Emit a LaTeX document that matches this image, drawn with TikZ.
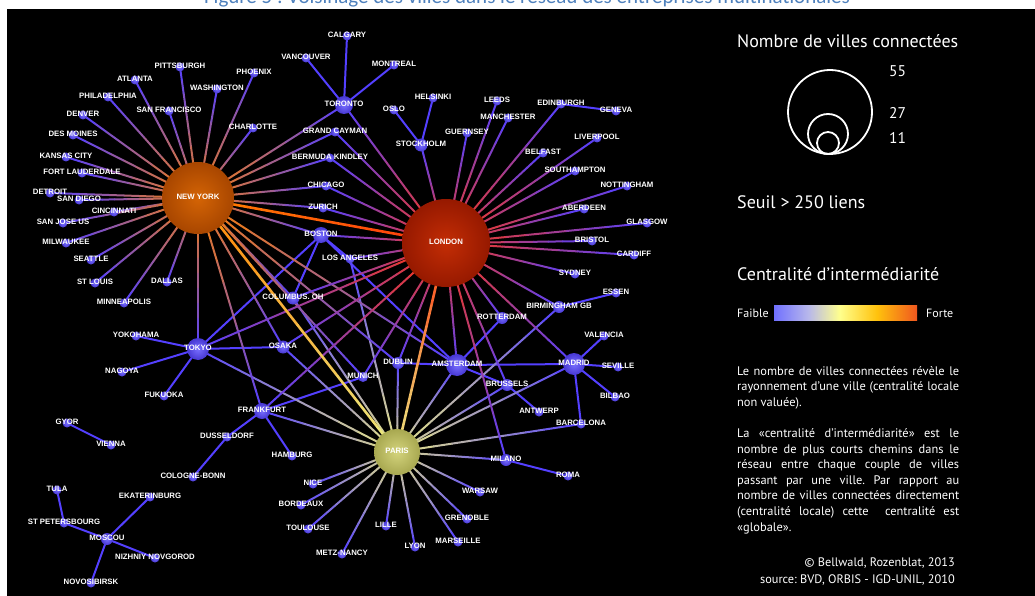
\documentclass[tikz,border=0pt]{standalone}
\usepackage{fontspec}
\setmainfont{PT Sans}
\newfontfamily\lbf{Liberation Sans}
\newfontfamily\ttf{Carlito}
\usetikzlibrary{calc}
\definecolor{cb}{RGB}{84,64,255}
\definecolor{cny}{RGB}{255,130,0}
\definecolor{cld}{RGB}{255,55,15}
\definecolor{cpa}{RGB}{235,235,130}
\definecolor{ttlblue}{RGB}{79,129,189}
\definecolor{bin}{RGB}{120,110,255}
\definecolor{bout}{RGB}{70,55,210}
\definecolor{nyin}{RGB}{212,100,5}
\definecolor{nyout}{RGB}{168,70,0}
\definecolor{ldin}{RGB}{195,45,5}
\definecolor{ldout}{RGB}{150,25,0}
\definecolor{pain}{RGB}{212,212,125}
\definecolor{paout}{RGB}{168,168,80}
\pgfdeclarehorizontalshading{cbar}{100bp}{rgb(0bp)=(0.44,0.44,1); rgb(25bp)=(0.44,0.44,1); rgb(37bp)=(0.72,0.72,0.92); rgb(48bp)=(1,1,0.55); rgb(61bp)=(1,0.76,0.05); rgb(75bp)=(0.94,0.34,0.12); rgb(100bp)=(0.94,0.34,0.12)}
\newcommand\gl[4]{%
  \foreach \k in {0,...,9}{%
    \pgfmathsetmacro\ta{\k/10}%
    \pgfmathsetmacro\tb{(\k+1)/10}%
    \pgfmathtruncatemacro\pc{95-10*\k}%
    \draw[edge,draw=#3!\pc!#4] ($(#1)!\ta!(#2)$) -- ($(#1)!\tb!(#2)$);}}
\newcommand\bl[2]{\draw[edge,draw=cb] (#1) -- (#2);}
\newcommand\ball[3]{\shade[#3] (#1) circle (#2pt);}
\newcommand\lab[2]{\node[lbl] (#1-l) at ($(#1)+(0,1.3)$) {#2};}
\frenchspacing
\begin{document}
\begin{tikzpicture}[x=1pt,y=-1pt,
  edge/.style={line width=2pt,line cap=round},
  lbl/.style={text=white,font=\lbf\bfseries\fontsize{7.8}{8}\selectfont,inner sep=0pt,anchor=base},
  bn/.style={inner color=bin,outer color=bout},
  nyb/.style={inner color=nyin,outer color=nyout},
  ldb/.style={inner color=ldin,outer color=ldout},
  pab/.style={inner color=pain,outer color=paout},
  legt/.style={text=white,inner sep=0pt,anchor=base west,font=\fontsize{18}{20}\selectfont},
  parl/.style={text=white,inner sep=0pt,anchor=base west,font=\fontsize{12.4}{14}\selectfont},
  cred/.style={text=white,inner sep=0pt,anchor=base east,font=\fontsize{12.3}{14}\selectfont}]
\useasboundingbox (0,0) rectangle (1035,596);
\fill[white] (0,0) rectangle (1035,596);
\fill[black] (7,9) rectangle (1035,596);
\node[text=ttlblue,inner sep=0pt,anchor=base,font=\ttf\fontsize{21}{24}\selectfont] (title) at (527,3.5) {Figure 5 : Voisinage des villes dans le réseau des entreprises multinationales};
% ---- cities
\coordinate (ny) at (198,198);
\coordinate (ld) at (446,243);
\coordinate (pa) at (397,452);
\coordinate (tor) at (344,105);
\coordinate (tok) at (198,349);
\coordinate (ams) at (457,365);
\coordinate (mad) at (574,364);
\coordinate (fra) at (262,411);
\coordinate (bos) at (321,235);
\coordinate (sto) at (421,145);
\coordinate (col) at (293,298);
\coordinate (osa) at (283,347);
\coordinate (mos) at (107,539);
\coordinate (bir) at (559,307);
\coordinate (dub) at (398,363);
\coordinate (bru) at (507,385);
\coordinate (rot) at (502,318);
\coordinate (mil) at (506,460);
\coordinate (mun) at (363,377);
\coordinate (pit) at (180,67);
\coordinate (atl) at (135,80);
\coordinate (phi) at (108,97);
\coordinate (den) at (83,115);
\coordinate (dsm) at (73,135);
\coordinate (kc) at (66,157);
\coordinate (ftl) at (82,173);
\coordinate (det) at (50,193);
\coordinate (sd) at (79,200);
\coordinate (cin) at (114,212);
\coordinate (sf) at (169,111);
\coordinate (was) at (217,89);
\coordinate (pho) at (254,73);
\coordinate (cha) at (253,128);
\coordinate (van) at (306,58);
\coordinate (cal) at (347,36);
\coordinate (mon) at (394,65);
\coordinate (osl) at (394,110);
\coordinate (hel) at (433,98);
\coordinate (gue) at (467,133);
\coordinate (lee) at (497,101);
\coordinate (man) at (508,118);
\coordinate (gc) at (335,132);
\coordinate (bk) at (330,158);
\coordinate (chi) at (326,186);
\coordinate (zur) at (323,208);
\coordinate (edi) at (561,104);
\coordinate (gen) at (616,111);
\coordinate (liv) at (597,138);
\coordinate (bel) at (543,153);
\coordinate (sou) at (575,171);
\coordinate (not) at (627,186);
\coordinate (abe) at (584,209);
\coordinate (gla) at (647,223);
\coordinate (bri) at (592,241);
\coordinate (car) at (634,255);
\coordinate (syd) at (575,274);
\coordinate (sj) at (63,223);
\coordinate (mlw) at (66,243);
\coordinate (sea) at (91,260);
\coordinate (stl) at (95,283);
\coordinate (dal) at (167,282);
\coordinate (min) at (124,303);
\coordinate (la) at (350,259);
\coordinate (yok) at (136,336);
\coordinate (nag) at (122,372);
\coordinate (fuk) at (164,396);
\coordinate (ess) at (616,293);
\coordinate (val) at (604,336);
\coordinate (sev) at (618,367);
\coordinate (bil) at (615,397);
\coordinate (ant) at (539,412);
\coordinate (bar) at (581,424);
\coordinate (gyo) at (67,423);
\coordinate (vie) at (111,445);
\coordinate (dus) at (227,437);
\coordinate (ham) at (292,456);
\coordinate (cb) at (193,477);
\coordinate (tul) at (57,490);
\coordinate (eka) at (150,497);
\coordinate (stp) at (64,523);
\coordinate (niz) at (155,558);
\coordinate (nov) at (91,583);
\coordinate (nic) at (313,484);
\coordinate (bor) at (301,505);
\coordinate (tou) at (308,529);
\coordinate (mtz) at (342,554);
\coordinate (lil) at (386,526);
\coordinate (lyo) at (415,547);
\coordinate (mar) at (458,542);
\coordinate (gre) at (467,519);
\coordinate (war) at (480,492);
\coordinate (rom) at (568,476);
% ---- blue edges
\bl{tor}{cal}\bl{tor}{van}\bl{tor}{mon}\bl{sto}{osl}\bl{sto}{hel}\bl{edi}{gen}
\bl{tok}{yok}\bl{tok}{nag}\bl{tok}{fuk}\bl{tok}{osa}\bl{tok}{bos}\bl{bos}{col}
\bl{bos}{la}\bl{bos}{ams}
\bl{ams}{rot}\bl{ams}{dub}\bl{ams}{bru}\bl{ams}{mad}\bl{bru}{ant}
\bl{mad}{val}\bl{mad}{sev}\bl{mad}{bil}\bl{mad}{bar}\bl{bir}{ess}
\bl{fra}{dus}\bl{fra}{ham}\bl{fra}{mun}\bl{dus}{cb}\bl{gyo}{vie}
\bl{tul}{stp}\bl{stp}{mos}\bl{mos}{eka}\bl{mos}{niz}\bl{mos}{nov}\bl{mil}{rom}
% ---- hub edges
\foreach \c in {fra,nic,bor,tou,mtz,lil,lyo,mar,gre,war,mil,bar,mad,bru,ams,dub,la,tok,col,bir,osa}{\gl{pa}{\c}{cpa}{cb}}
\foreach \c in {pit,atl,phi,den,dsm,kc,ftl,det,sd,cin,sj,mlw,sea,stl,min,dal,sf,was,pho,cha,tor,gc,bk,chi,zur,bos,col,osa,tok,fra,ams,mun,dub}{\gl{ny}{\c}{cny}{cb}}
\foreach \c in {tor,sto,gue,lee,man,edi,bel,liv,sou,not,abe,gla,bri,car,syd,bir,mad,rot,bru,mil,ams,dub,mun,fra,col,osa,tok,la,bos,zur,chi,bk,gc}{\gl{ld}{\c}{cld}{cb}}
\begin{scope}[edge/.append style={line width=2.6pt}]
\gl{ny}{ld}{cny}{cld}
\gl{ny}{pa}{cny}{cpa}
\gl{ld}{pa}{cld}{cpa}
\end{scope}
% ---- balls
\ball{ny}{36}{nyb}
\ball{ld}{44}{ldb}
\ball{pa}{23}{pab}
\ball{tok}{11}{bn}\ball{ams}{11}{bn}\ball{mad}{11}{bn}
\ball{tor}{9}{bn}\ball{fra}{8}{bn}\ball{bos}{8}{bn}
\foreach \c in {sto,col,osa}{\ball{\c}{6.5}{bn}}
\foreach \c in {mos,bir,dub,bru,rot,mil}{\ball{\c}{6}{bn}}
\ball{mun}{5}{bn}
\foreach \c in {pit,atl,phi,den,dsm,kc,ftl,det,sd,cin,sf,was,pho,cha,van,cal,mon,osl,hel,gue,lee,man,gc,bk,chi,zur,edi,gen,liv,bel,sou,not,abe,gla,bri,car,syd,sj,mlw,sea,stl,dal,min,la,yok,nag,fuk,ess,val,sev,bil,ant,bar,gyo,vie,dus,ham,cb,tul,eka,stp,niz,nov,nic,bor,tou,mtz,lil,lyo,mar,gre,war,rom}{\ball{\c}{4.5}{bn}}
% ---- labels
\lab{ny}{NEW YORK}\lab{ld}{LONDON}\lab{pa}{PARIS}\lab{tor}{TORONTO}\lab{tok}{TOKYO}
\lab{ams}{AMSTERDAM}\lab{mad}{MADRID}\lab{fra}{FRANKFURT}\lab{bos}{BOSTON}
\lab{sto}{STOCKHOLM}\lab{col}{COLUMBUS. OH}\lab{osa}{OSAKA}\lab{mos}{MOSCOU}
\lab{bir}{BIRMINGHAM GB}\lab{dub}{DUBLIN}\lab{bru}{BRUSSELS}\lab{rot}{ROTTERDAM}
\lab{mil}{MILANO}\lab{mun}{MUNICH}\lab{pit}{PITTSBURGH}\lab{atl}{ATLANTA}
\lab{phi}{PHILADELPHIA}\lab{den}{DENVER}\lab{dsm}{DES MOINES}\lab{kc}{KANSAS CITY}
\lab{ftl}{FORT LAUDERDALE}\lab{det}{DETROIT}\lab{sd}{SAN DIEGO}\lab{cin}{CINCINNATI}
\lab{sf}{SAN FRANCISCO}\lab{was}{WASHINGTON}\lab{pho}{PHOENIX}\lab{cha}{CHARLOTTE}
\lab{van}{VANCOUVER}\lab{cal}{CALGARY}\lab{mon}{MONTREAL}\lab{osl}{OSLO}
\lab{hel}{HELSINKI}\lab{gue}{GUERNSEY}\lab{lee}{LEEDS}\lab{man}{MANCHESTER}
\lab{gc}{GRAND CAYMAN}\lab{bk}{BERMUDA KINDLEY}\lab{chi}{CHICAGO}\lab{zur}{ZURICH}
\lab{edi}{EDINBURGH}\lab{gen}{GENEVA}\lab{liv}{LIVERPOOL}\lab{bel}{BELFAST}
\lab{sou}{SOUTHAMPTON}\lab{not}{NOTTINGHAM}\lab{abe}{ABERDEEN}\lab{gla}{GLASGOW}
\lab{bri}{BRISTOL}\lab{car}{CARDIFF}\lab{syd}{SYDNEY}\lab{sj}{SAN JOSE US}
\lab{mlw}{MILWAUKEE}\lab{sea}{SEATTLE}\lab{stl}{ST LOUIS}\lab{dal}{DALLAS}
\lab{min}{MINNEAPOLIS}\lab{la}{LOS ANGELES}\lab{yok}{YOKOHAMA}\lab{nag}{NAGOYA}
\lab{fuk}{FUKUOKA}\lab{ess}{ESSEN}\lab{val}{VALENCIA}\lab{sev}{SEVILLE}
\lab{bil}{BILBAO}\lab{ant}{ANTWERP}\lab{bar}{BARCELONA}\lab{gyo}{GYOR}
\lab{vie}{VIENNA}\lab{dus}{DUSSELDORF}\lab{ham}{HAMBURG}\lab{cb}{COLOGNE-BONN}
\lab{tul}{TULA}\lab{eka}{EKATERINBURG}\lab{stp}{ST PETERSBOURG}
\lab{niz}{NIZHNIY NOVGOROD}\lab{nov}{NOVOSIBIRSK}\lab{nic}{NICE}
\lab{bor}{BORDEAUX}\lab{tou}{TOULOUSE}\lab{mtz}{METZ-NANCY}\lab{lil}{LILLE}
\lab{lyo}{LYON}\lab{mar}{MARSEILLE}\lab{gre}{GRENOBLE}\lab{war}{WARSAW}\lab{rom}{ROMA}
% ---- legend
\node[legt] (l1) at (737,48) {Nombre de villes connectées};
\draw[white,line width=1.8pt] (830,112) circle (42pt);
\draw[white,line width=1.8pt] (828,134) circle (20pt);
\draw[white,line width=1.8pt] (828,143) circle (11pt);
\node[legt,font=\fontsize{15.5}{17}\selectfont] (n55) at (889,77) {55};
\node[legt,font=\fontsize{15.5}{17}\selectfont] (n27) at (889,119) {27};
\node[legt,font=\fontsize{15.5}{17}\selectfont] (n11) at (889,144) {11};
\node[legt] (l2) at (737,208) {Seuil > 250 liens};
\node[legt] (l3) at (737,280) {Centralité d’intermédiarité};
\shade[shading=cbar] (774,305) rectangle (917,320);
\node[legt,font=\fontsize{12}{14}\selectfont] (fa) at (737,317) {Faible};
\node[legt,font=\fontsize{12}{14}\selectfont] (fo) at (926,317) {Forte};
\node[parl] (p1) at (737,375.5) {\makebox[222pt][s]{Le nombre de villes connectées révèle le}};
\node[parl] (p2) at (737,390.8) {\makebox[222pt][s]{rayonnement d’une ville (centralité locale}};
\node[parl] (p3) at (737,406.1) {non valuée).};
\node[parl] (q1) at (737,437.5) {\makebox[222pt][s]{La «centralité d’intermédiarité» est le}};
\node[parl] (q2) at (737,453.1) {\makebox[222pt][s]{nombre de plus courts chemins dans le}};
\node[parl] (q3) at (737,468.7) {\makebox[222pt][s]{réseau entre chaque couple de villes}};
\node[parl] (q4) at (737,484.3) {\makebox[222pt][s]{passant par une ville. Par rapport au}};
\node[parl] (q5) at (737,499.9) {\makebox[222pt][s]{nombre de villes connectées directement}};
\node[parl] (q6) at (737,515.5) {\makebox[222pt][s]{(centralité locale) cette \ centralité est}};
\node[parl] (q7) at (737,531.1) {«globale».};
\node[cred] (c1) at (955,566) {© Bellwald, Rozenblat, 2013};
\node[cred] (c2) at (955,583) {source: BVD, ORBIS - IGD-UNIL, 2010};
\end{tikzpicture}
\end{document}
